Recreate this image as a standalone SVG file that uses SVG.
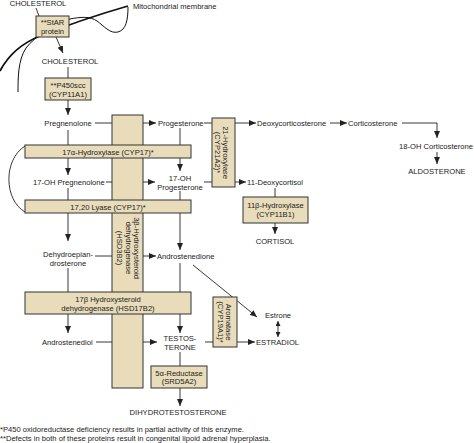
<svg xmlns="http://www.w3.org/2000/svg" width="474" height="443" viewBox="0 0 474 443">
<style>
text{font-family:"Liberation Sans",Arial,sans-serif;font-size:7.6px;fill:#222}
.m{text-anchor:middle}
.box{fill:#e8dcbb;stroke:#333;stroke-width:1}
.ln{fill:none;stroke:#222;stroke-width:0.9}
.fn{font-size:7.6px}
</style>
<defs>
<marker id="ah" markerWidth="7" markerHeight="6" refX="7" refY="3" orient="auto" markerUnits="userSpaceOnUse">
<path d="M0,0 L7,3 L0,6 z" fill="#222"/>
</marker>
<marker id="ahs" markerWidth="5" markerHeight="5" refX="5" refY="2.5" orient="auto-start-reverse" markerUnits="userSpaceOnUse">
<path d="M0,0 L5,2.5 L0,5 z" fill="#222"/>
</marker>
</defs>
<rect width="474" height="443" fill="#fff"/>

<!-- membrane -->
<g id="membrane">
<path d="M0,71 C10,52 25,42 40,36 C70,24 100,14 128,6" fill="none" stroke="#111" stroke-width="1.8"/>
<path d="M128,7 C128,20 126,30 118,32 C110,34 104,26 97,21 C90,16 80,17 70,19 C55,24 35,36 26,48 C18,60 18,78 18,92" fill="none" stroke="#111" stroke-width="1"/>
<text x="133" y="9">Mitochondrial membrane</text>
</g>

<g id="connectors">
<line class="ln" x1="36" y1="8" x2="39" y2="16"/>
<line class="ln" x1="56" y1="37" x2="63" y2="53" marker-end="url(#ah)"/>
<line class="ln" x1="68" y1="67" x2="68" y2="78"/>
<line class="ln" x1="68" y1="100" x2="68" y2="115" marker-end="url(#ah)"/>
<line class="ln" x1="95" y1="123" x2="156" y2="123" marker-end="url(#ah)"/>
<line class="ln" x1="68" y1="130" x2="68" y2="145"/>
<line class="ln" x1="68" y1="158" x2="68" y2="175" marker-end="url(#ah)"/>
<line class="ln" x1="180" y1="128" x2="180" y2="145"/>
<line class="ln" x1="180" y1="158" x2="180" y2="171" marker-end="url(#ah)"/>
<path class="ln" d="M25,146 C3,160 4,200 25,212"/>
<line class="ln" x1="106" y1="182" x2="155" y2="182" marker-end="url(#ah)"/>
<line class="ln" x1="68" y1="188" x2="68" y2="200"/>
<line class="ln" x1="180" y1="191" x2="180" y2="200"/>
<line class="ln" x1="68" y1="213" x2="68" y2="241" marker-end="url(#ah)"/>
<line class="ln" x1="180" y1="213" x2="180" y2="250" marker-end="url(#ah)"/>
<line class="ln" x1="95" y1="256" x2="156" y2="256" marker-end="url(#ah)"/>
<line class="ln" x1="68" y1="268" x2="68" y2="292"/>
<line class="ln" x1="180" y1="263" x2="180" y2="292"/>
<line class="ln" x1="68" y1="314" x2="68" y2="333" marker-end="url(#ah)"/>
<line class="ln" x1="180" y1="314" x2="180" y2="333" marker-end="url(#ah)"/>
<line class="ln" x1="96" y1="342" x2="157" y2="342" marker-end="url(#ah)"/>
<line class="ln" x1="193" y1="265" x2="257" y2="317" marker-end="url(#ah)"/>
<line class="ln" x1="205" y1="342" x2="255" y2="342" marker-end="url(#ah)"/>
<line class="ln" x1="278" y1="321" x2="278" y2="337" marker-start="url(#ahs)" marker-end="url(#ahs)"/>
<line class="ln" x1="180" y1="352" x2="180" y2="366"/>
<line class="ln" x1="180" y1="388" x2="180" y2="406" marker-end="url(#ah)"/>
<line class="ln" x1="204" y1="123" x2="256" y2="123" marker-end="url(#ah)"/>
<line class="ln" x1="330" y1="123" x2="347" y2="123" marker-end="url(#ah)"/>
<polyline class="ln" points="402,123 437,123 437,138" marker-end="url(#ah)"/>
<line class="ln" x1="437" y1="152" x2="437" y2="164" marker-end="url(#ah)"/>
<line class="ln" x1="204" y1="182" x2="246" y2="182" marker-end="url(#ah)"/>
<line class="ln" x1="275" y1="188" x2="275" y2="197"/>
<line class="ln" x1="275" y1="223" x2="275" y2="234" marker-end="url(#ah)"/>
</g>

<g id="hsd3b2">
<rect class="box" x="112" y="115" width="31" height="273"/>
<g transform="translate(127.5,248) rotate(90)">
<text class="m" x="0" y="-6.5">3β-Hydroxysteroid</text>
<text class="m" x="0" y="1.8">dehydrogenase</text>
<text class="m" x="0" y="10.1">(HSD3B2)</text>
</g>
</g>

<g id="star">
<rect class="box" x="36" y="16" width="33" height="21"/>
<text class="m" x="52.5" y="25">**StAR</text>
<text class="m" x="52.5" y="33.5">protein</text>
</g>
<text class="m" x="38" y="6">CHOLESTEROL</text>
<text id="cholesterol" class="m" x="70" y="64">CHOLESTEROL</text>

<g id="p450scc">
<rect class="box" x="45" y="78" width="46" height="22"/>
<text class="m" x="68" y="88">**P450scc</text>
<text class="m" x="68" y="97">(CYP11A1)</text>
</g>

<text id="pregnenolone" class="m" x="68" y="126">Pregnenolone</text>
<text id="progesterone" x="158" y="126">Progesterone</text>

<g id="cyp17a">
<rect class="box" x="25" y="145" width="166" height="13"/>
<text class="m" x="108" y="154.5">17α-Hydroxylase (CYP17)*</text>
</g>

<text id="ohpreg" x="33" y="184.5">17-OH Pregnenolone</text>
<g id="ohprog">
<text class="m" x="180" y="181">17-OH</text>
<text class="m" x="180" y="189.5">Progesterone</text>
</g>

<g id="cyp17l">
<rect class="box" x="25" y="200" width="166" height="13"/>
<text class="m" x="108" y="209.5">17,20 Lyase (CYP17)*</text>
</g>

<g id="dhea">
<text class="m" x="68" y="257">Dehydroepian-</text>
<text class="m" x="68" y="266">drosterone</text>
</g>
<text id="androstenedione" x="157" y="259">Androstenedione</text>

<g id="hsd17b2">
<rect class="box" x="25" y="292" width="166" height="22"/>
<text class="m" x="108" y="301.5">17β Hydroxysteroid</text>
<text class="m" x="108" y="310.5">dehydrogenase (HSD17B2)</text>
</g>

<text id="androstenediol" x="42" y="344.5">Androstenediol</text>
<g id="testosterone">
<text class="m" x="180" y="341">TESTOS-</text>
<text class="m" x="180" y="350">TERONE</text>
</g>

<g id="cyp19a1">
<rect class="box" x="213" y="297" width="24" height="50"/>
<g transform="translate(225,322) rotate(90)">
<text class="m" x="0" y="-1">Aromatase</text>
<text class="m" x="0" y="7">(CYP19A1)*</text>
</g>
</g>

<text id="estrone" class="m" x="278" y="318">Estrone</text>
<text id="estradiol" x="256" y="345">ESTRADIOL</text>

<g id="srd5a2">
<rect class="box" x="151" y="366" width="56" height="22"/>
<text class="m" x="179" y="375.5">5α-Reductase</text>
<text class="m" x="179" y="384">(SRD5A2)</text>
</g>
<text id="dht" class="m" x="178" y="415">DIHYDROTESTOSTERONE</text>

<g id="cyp21a2">
<rect class="box" x="212" y="118" width="23" height="69"/>
<g transform="translate(223.5,152.5) rotate(90)">
<text class="m" x="0" y="0.3">21-Hydroxylase</text>
<text class="m" x="0" y="8.3">(CYP21A2)*</text>
</g>
</g>

<text id="doc" x="257" y="126">Deoxycorticosterone</text>
<text id="corticosterone" x="348" y="126">Corticosterone</text>
<text id="ohcort" class="m" x="436" y="149">18-OH Corticosterone</text>
<text id="aldosterone" class="m" x="437" y="174">ALDOSTERONE</text>
<text id="deoxycortisol" x="247" y="185">11-Deoxycortisol</text>

<g id="cyp11b1">
<rect class="box" x="243" y="197" width="65" height="26"/>
<text class="m" x="275.5" y="208">11β-Hydroxylase</text>
<text class="m" x="275.5" y="217">(CYP11B1)</text>
</g>
<text id="cortisol" class="m" x="275" y="244">CORTISOL</text>

<g id="footnotes">
<text class="fn" x="0" y="432">*P450 oxidoreductase deficiency results in partial activity of this enzyme.</text>
<text class="fn" x="0" y="440.5">**Defects in both of these proteins result in congenital lipoid adrenal hyperplasia.</text>
</g>
</svg>
